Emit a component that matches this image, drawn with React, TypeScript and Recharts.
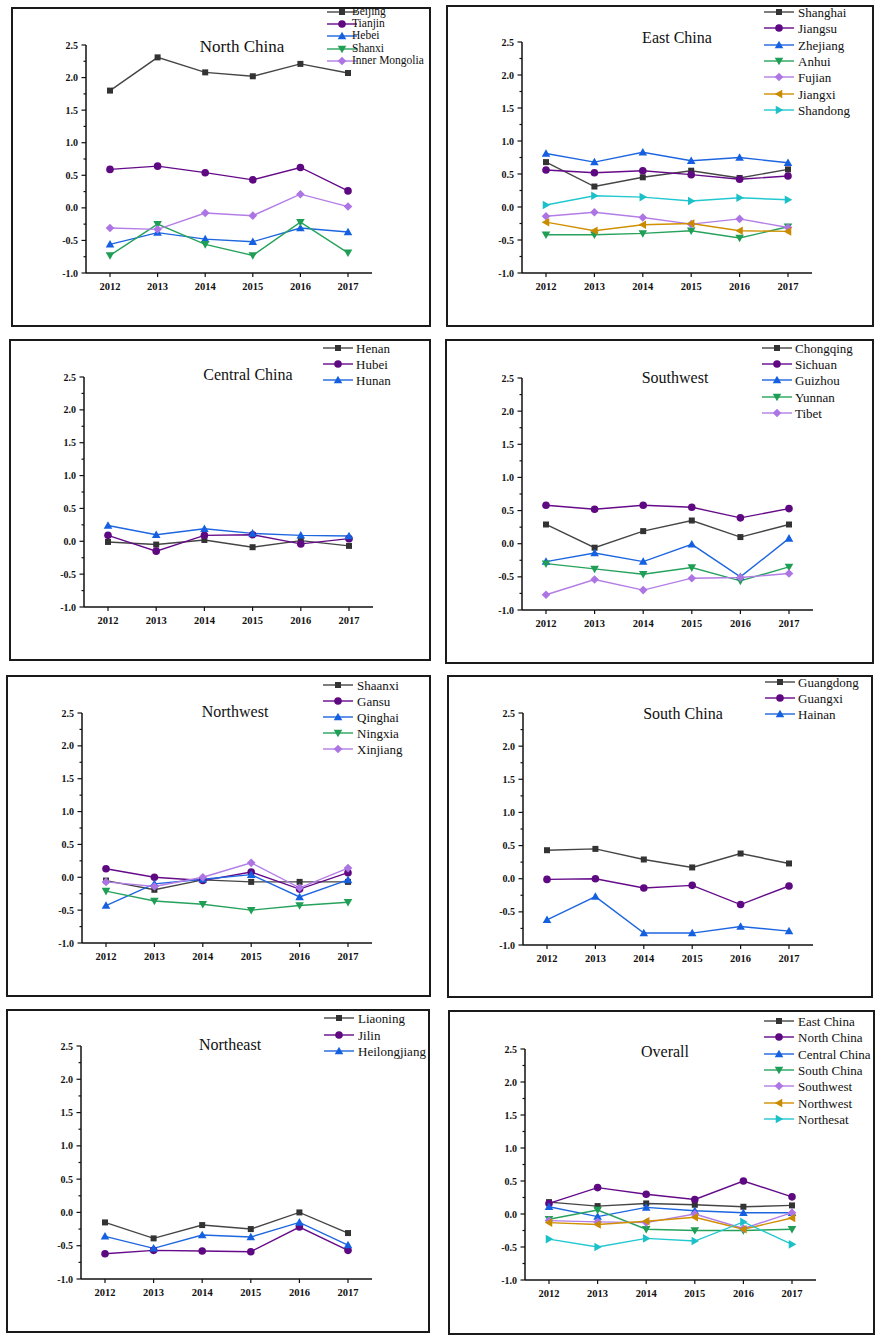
import { LineChart, Line, XAxis, YAxis } from "recharts";

const years = ["2012", "2013", "2014", "2015", "2016", "2017"];
const yMajorTicks = [-1, -0.5, 0, 0.5, 1, 1.5, 2, 2.5];
const yMinorTicks = [-0.75, -0.25, 0.25, 0.75, 1.25, 1.75, 2.25];

// North China
const beijing = [1.8, 2.31, 2.08, 2.02, 2.21, 2.07];
const tianjin = [0.59, 0.64, 0.54, 0.43, 0.62, 0.26];
const hebei = [-0.56, -0.38, -0.48, -0.52, -0.31, -0.37];
const shanxi = [-0.73, -0.25, -0.56, -0.73, -0.22, -0.69];
const innerMongolia = [-0.31, -0.33, -0.08, -0.12, 0.21, 0.02];

// East China
const shanghai = [0.68, 0.31, 0.45, 0.55, 0.44, 0.57];
const jiangsu = [0.56, 0.52, 0.55, 0.49, 0.42, 0.47];
const zhejiang = [0.81, 0.68, 0.83, 0.7, 0.75, 0.67];
const anhui = [-0.42, -0.42, -0.4, -0.36, -0.47, -0.3];
const fujian = [-0.14, -0.08, -0.16, -0.26, -0.18, -0.31];
const jiangxi = [-0.23, -0.36, -0.27, -0.25, -0.36, -0.37];
const shandong = [0.03, 0.17, 0.15, 0.09, 0.14, 0.11];

// Central China
const henan = [-0.01, -0.05, 0.02, -0.09, 0.01, -0.07];
const hubei = [0.09, -0.15, 0.09, 0.1, -0.04, 0.04];
const hunan = [0.24, 0.1, 0.19, 0.12, 0.09, 0.08];

// Southwest
const chongqing = [0.29, -0.06, 0.19, 0.35, 0.1, 0.29];
const sichuan = [0.58, 0.52, 0.58, 0.55, 0.39, 0.53];
const guizhou = [-0.27, -0.14, -0.27, -0.01, -0.5, 0.08];
const yunnan = [-0.3, -0.38, -0.46, -0.36, -0.56, -0.35];
const tibet = [-0.77, -0.54, -0.7, -0.52, -0.51, -0.45];

// Northwest
const shaanxi = [-0.05, -0.19, -0.04, -0.07, -0.07, -0.07];
const gansu = [0.13, 0.0, -0.05, 0.08, -0.18, 0.07];
const qinghai = [-0.43, -0.1, -0.03, 0.04, -0.3, -0.04];
const ningxia = [-0.21, -0.36, -0.41, -0.5, -0.43, -0.38];
const xinjiang = [-0.07, -0.14, 0.0, 0.22, -0.16, 0.14];

// South China
const guangdong = [0.43, 0.45, 0.29, 0.17, 0.38, 0.23];
const guangxi = [-0.01, 0.0, -0.14, -0.1, -0.39, -0.11];
const hainan = [-0.62, -0.27, -0.82, -0.82, -0.72, -0.79];

// Northeast
const liaoning = [-0.15, -0.39, -0.19, -0.25, 0.0, -0.31];
const jilin = [-0.62, -0.57, -0.58, -0.59, -0.22, -0.57];
const heilongjiang = [-0.36, -0.54, -0.34, -0.37, -0.15, -0.49];

// Overall
const eastChina = [0.18, 0.12, 0.16, 0.14, 0.11, 0.13];
const northChina = [0.16, 0.4, 0.3, 0.22, 0.5, 0.26];
const centralChina = [0.11, -0.04, 0.1, 0.05, 0.02, 0.02];
const southChina = [-0.08, 0.06, -0.23, -0.25, -0.25, -0.23];
const southwest = [-0.1, -0.12, -0.13, 0.0, -0.22, 0.02];
const northwest = [-0.13, -0.16, -0.11, -0.05, -0.23, -0.06];
const northeast = [-0.38, -0.5, -0.37, -0.41, -0.12, -0.46];

type Shape = "square" | "circle" | "up" | "down" | "diamond" | "left" | "right";
const looks: { line: string; fill: string; shape: Shape }[] = [
  { line: "#454545", fill: "#333333", shape: "square" },
  { line: "#650a89", fill: "#5e0882", shape: "circle" },
  { line: "#1d66e0", fill: "#1560e0", shape: "up" },
  { line: "#27a25c", fill: "#1f9e55", shape: "down" },
  { line: "#b37de6", fill: "#ad74e4", shape: "diamond" },
  { line: "#d09000", fill: "#c98a00", shape: "left" },
  { line: "#22c8d0", fill: "#1cc0c8", shape: "right" },
];

const SERIF = "'Liberation Serif', 'Times New Roman', serif";

function Marker({ cx, cy, shape, fill }: { cx: number; cy: number; shape: Shape; fill: string }) {
  const s = 4.3;
  if (shape === "square") return <rect x={cx - 3} y={cy - 3} width={6} height={6} fill={fill} />;
  if (shape === "circle") return <circle cx={cx} cy={cy} r={3.8} fill={fill} />;
  let pts = "";
  if (shape === "up") pts = `${cx},${cy - s} ${cx - s},${cy + s * 0.75} ${cx + s},${cy + s * 0.75}`;
  if (shape === "down") pts = `${cx},${cy + s} ${cx - s},${cy - s * 0.75} ${cx + s},${cy - s * 0.75}`;
  if (shape === "left") pts = `${cx - s},${cy} ${cx + s * 0.75},${cy - s} ${cx + s * 0.75},${cy + s}`;
  if (shape === "right") pts = `${cx + s},${cy} ${cx - s * 0.75},${cy - s} ${cx - s * 0.75},${cy + s}`;
  if (shape === "diamond") pts = `${cx},${cy - s} ${cx + s},${cy} ${cx},${cy + s} ${cx - s},${cy}`;
  return <polygon points={pts} fill={fill} />;
}

type Panel = {
  title: string;
  series: { name: string; values: number[] }[];
  box: [number, number, number, number];
  axisX: number;
  yTop: number;
  yBot: number;
  xEnd: number;
  titleAt: [number, number];
  titleSize: number;
  legend: { lineX: number; textX: number; y: number; gap: number; font: number };
};

const panels: Panel[] = [
  {
    title: "North China",
    series: [
      { name: "Beijing", values: beijing },
      { name: "Tianjin", values: tianjin },
      { name: "Hebei", values: hebei },
      { name: "Shanxi", values: shanxi },
      { name: "Inner Mongolia", values: innerMongolia },
    ],
    box: [11, 7, 431, 327], axisX: 86, yTop: 45, yBot: 273, xEnd: 372,
    titleAt: [242, 47], titleSize: 17,
    legend: { lineX: 327, textX: 352, y: 12, gap: 12.2, font: 11.5 },
  },
  {
    title: "East China",
    series: [
      { name: "Shanghai", values: shanghai },
      { name: "Jiangsu", values: jiangsu },
      { name: "Zhejiang", values: zhejiang },
      { name: "Anhui", values: anhui },
      { name: "Fujian", values: fujian },
      { name: "Jiangxi", values: jiangxi },
      { name: "Shandong", values: shandong },
    ],
    box: [446, 5, 874, 327], axisX: 522, yTop: 42, yBot: 273, xEnd: 812,
    titleAt: [677, 38], titleSize: 16,
    legend: { lineX: 764, textX: 798, y: 12, gap: 16.3, font: 13 },
  },
  {
    title: "Central China",
    series: [
      { name: "Henan", values: henan },
      { name: "Hubei", values: hubei },
      { name: "Hunan", values: hunan },
    ],
    box: [9, 339, 431, 661], axisX: 84, yTop: 377, yBot: 607, xEnd: 373,
    titleAt: [248, 375], titleSize: 16,
    legend: { lineX: 323, textX: 356, y: 348, gap: 16, font: 13 },
  },
  {
    title: "Southwest",
    series: [
      { name: "Chongqing", values: chongqing },
      { name: "Sichuan", values: sichuan },
      { name: "Guizhou", values: guizhou },
      { name: "Yunnan", values: yunnan },
      { name: "Tibet", values: tibet },
    ],
    box: [445, 339, 874, 664], axisX: 522, yTop: 378, yBot: 610, xEnd: 813,
    titleAt: [675, 378], titleSize: 16,
    legend: { lineX: 762, textX: 795, y: 348, gap: 16.2, font: 13 },
  },
  {
    title: "Northwest",
    series: [
      { name: "Shaanxi", values: shaanxi },
      { name: "Gansu", values: gansu },
      { name: "Qinghai", values: qinghai },
      { name: "Ningxia", values: ningxia },
      { name: "Xinjiang", values: xinjiang },
    ],
    box: [6, 675, 431, 997], axisX: 82, yTop: 713, yBot: 943, xEnd: 372,
    titleAt: [235, 712], titleSize: 16,
    legend: { lineX: 323, textX: 357, y: 685, gap: 16, font: 13 },
  },
  {
    title: "South China",
    series: [
      { name: "Guangdong", values: guangdong },
      { name: "Guangxi", values: guangxi },
      { name: "Hainan", values: hainan },
    ],
    box: [447, 675, 873, 998], axisX: 523, yTop: 713, yBot: 945, xEnd: 813,
    titleAt: [683, 714], titleSize: 16,
    legend: { lineX: 765, textX: 798, y: 682, gap: 16, font: 13 },
  },
  {
    title: "Northeast",
    series: [
      { name: "Liaoning", values: liaoning },
      { name: "Jilin", values: jilin },
      { name: "Heilongjiang", values: heilongjiang },
    ],
    box: [6, 1009, 430, 1333], axisX: 81, yTop: 1046, yBot: 1279, xEnd: 372,
    titleAt: [230, 1045], titleSize: 16,
    legend: { lineX: 324, textX: 358, y: 1018, gap: 16.5, font: 13 },
  },
  {
    title: "Overall",
    series: [
      { name: "East China", values: eastChina },
      { name: "North China", values: northChina },
      { name: "Central China", values: centralChina },
      { name: "South China", values: southChina },
      { name: "Southwest", values: southwest },
      { name: "Northwest", values: northwest },
      { name: "Northesat", values: northeast },
    ],
    box: [448, 1010, 875, 1335], axisX: 525, yTop: 1049, yBot: 1280, xEnd: 816,
    titleAt: [665, 1052], titleSize: 16,
    legend: { lineX: 764, textX: 798, y: 1021, gap: 16.3, font: 13 },
  },
];

const Y_AXIS_W = 40;
const X_AXIS_H = 30;

function PanelChart({ p }: { p: Panel }) {
  const [L, T, R, B] = p.box;
  const w = R - L;
  const h = B - T;
  const axisXLocal = p.axisX - L;
  const axisYLocal = p.yBot - T;
  const rows = years.map((yr, i) => {
    const row: Record<string, string | number> = { year: yr };
    p.series.forEach((s) => (row[s.name] = s.values[i]));
    return row;
  });
  const ticks = [...yMajorTicks, ...yMinorTicks].sort((a, b) => a - b);

  const yTick = (props: any) => {
    const { y, payload } = props;
    const major = yMajorTicks.includes(payload.value);
    return (
      <g>
        <line x1={axisXLocal - (major ? 4.5 : 2.5)} x2={axisXLocal} y1={y} y2={y} stroke="#111" strokeWidth={1.2} />
        {major && (
          <text x={axisXLocal - 8} y={y} textAnchor="end" dominantBaseline="central"
            fontFamily={SERIF} fontSize={10} fontWeight="bold" fill="#111">
            {payload.value.toFixed(1)}
          </text>
        )}
      </g>
    );
  };

  const xTick = (props: any) => {
    const { x, payload } = props;
    return (
      <g>
        <line x1={x} x2={x} y1={axisYLocal} y2={axisYLocal + 4} stroke="#111" strokeWidth={1.2} />
        <text x={x} y={axisYLocal + 13} textAnchor="middle" dominantBaseline="central"
          fontFamily={SERIF} fontSize={10.5} fontWeight="bold" fill="#111">
          {payload.value}
        </text>
      </g>
    );
  };

  return (
    <>
      <div style={{ position: "absolute", left: L, top: T, width: w, height: h }}>
        <LineChart
          width={w}
          height={h}
          data={rows}
          margin={{ top: p.yTop - T, bottom: B - p.yBot - X_AXIS_H, left: axisXLocal - Y_AXIS_W, right: R - p.xEnd }}
        >
          <XAxis dataKey="year" type="category" height={X_AXIS_H} padding={{ left: 24, right: 24 }}
            axisLine={{ stroke: "#111", strokeWidth: 1.5 }} tickLine={false} tickSize={0} tickMargin={0}
            interval={0} tick={xTick} />
          <YAxis type="number" domain={[-1, 2.5]} ticks={ticks} width={Y_AXIS_W} interval={0}
            axisLine={{ stroke: "#111", strokeWidth: 1.5 }} tickLine={false} tickSize={0} tickMargin={0}
            allowDataOverflow tick={yTick} />
          {p.series.map((s, i) => {
            const look = looks[i];
            return (
              <Line
                key={s.name}
                type="linear"
                dataKey={s.name}
                stroke={look.line}
                strokeWidth={1.4}
                isAnimationActive={false}
                activeDot={false}
                dot={(d: any) => (
                  <Marker key={`${s.name}-${d.index}`} cx={d.cx} cy={d.cy} shape={look.shape} fill={look.fill} />
                )}
              />
            );
          })}
        </LineChart>
      </div>
      <div style={{ position: "absolute", left: L, top: T, width: w, height: h, border: "2px solid #1a1a1a",
        boxSizing: "border-box", pointerEvents: "none" }} />
      <div style={{ position: "absolute", left: p.titleAt[0], top: p.titleAt[1], transform: "translate(-50%, -50%)",
        fontFamily: SERIF, fontSize: p.titleSize, color: "#111", whiteSpace: "nowrap" }}>
        {p.title}
      </div>
      {p.series.map((s, i) => {
        const look = looks[i];
        const cy = p.legend.y + i * p.legend.gap;
        return (
          <div key={s.name}>
            <svg style={{ position: "absolute", left: p.legend.lineX, top: cy - 6 }} width={30} height={12}>
              <line x1={0} x2={30} y1={6} y2={6} stroke={look.line} strokeWidth={1.4} />
              <Marker cx={15} cy={6} shape={look.shape} fill={look.fill} />
            </svg>
            <div style={{ position: "absolute", left: p.legend.textX, top: cy, transform: "translateY(-50%)",
              fontFamily: SERIF, fontSize: p.legend.font, color: "#111", whiteSpace: "nowrap", lineHeight: 1 }}>
              {s.name}
            </div>
          </div>
        );
      })}
    </>
  );
}

export default function App() {
  return (
    <div style={{ position: "absolute", left: 0, top: 0, width: 879, height: 1339, background: "#fff", overflow: "hidden" }}>
      {panels.map((p) => (
        <PanelChart key={p.title} p={p} />
      ))}
    </div>
  );
}
